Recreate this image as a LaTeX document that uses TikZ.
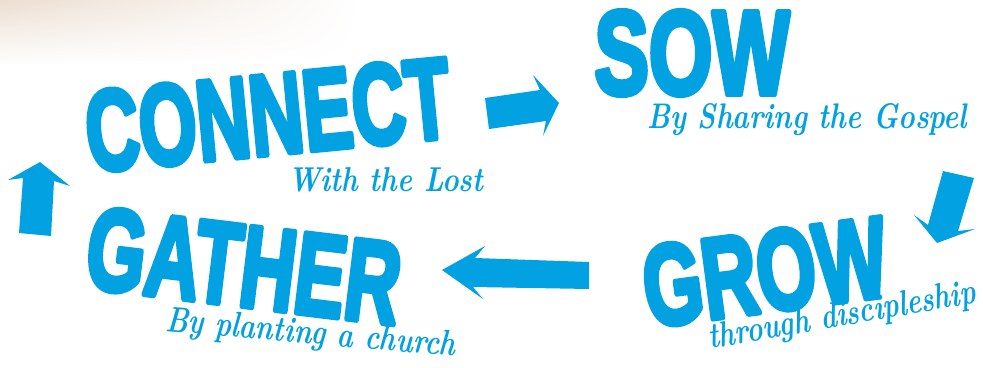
\documentclass[tikz,border=0pt]{standalone}
\usepackage{fontspec}
\usepackage{graphicx}
\usetikzlibrary{shadings}
\newfontfamily\bigfont[FakeBold=5]{Liberation Sans Bold}
\definecolor{cblue}{RGB}{2,161,226}
\definecolor{haze}{RGB}{236,222,210}
\begin{document}
\begin{tikzpicture}[x=1pt,y=-1pt,
  bigword/.style={inner sep=0pt, text=cblue, font=\bigfont, line join=round},
  subword/.style={inner sep=0pt, text=cblue, font=\bfseries\itshape, anchor=base west},
  blockarrow/.style={fill=cblue}]
\fill[white] (0,0) rectangle (983,367);
\shade[upper left=haze, upper right=white, lower left=white, lower right=white] (0,0) rectangle (360,65);
\useasboundingbox (0,0) rectangle (983,367);
% main words
\node[bigword, rotate=5.5]  (connect) at (268,115) {\pgfsetroundjoin\resizebox{366pt}{80pt}{CONNECT}};
\node[bigword]              (sow)     at (692,53)  {\pgfsetroundjoin\resizebox{195pt}{83pt}{SOW}};
\node[bigword, rotate=7.5]  (grow)    at (765,272) {\pgfsetroundjoin\resizebox{245pt}{80pt}{GROW}};
\node[bigword, rotate=-6.9] (gather)  at (244,266) {\pgfsetroundjoin\resizebox{315pt}{81pt}{GATHER}};
% subtitles
\node[subword]              (withlost) at (288,191) {\resizebox{195pt}{24pt}{With the Lost}};
\node[subword]              (sharing)  at (647,128) {\resizebox{320pt}{25pt}{By Sharing the Gospel}};
\node[subword, rotate=9.8]  (through)  at (710,349) {\resizebox{271pt}{25pt}{through discipleship}};
\node[subword, rotate=-5]   (planting) at (165,331) {\resizebox{291pt}{25pt}{By planting a church}};
% block arrows
\fill[blockarrow] (485,98) -- (540,90) -- (533,75) -- (559,103) -- (543,136) -- (546,121) -- (489,129) -- cycle;
\fill[blockarrow] (943,171) -- (974,178) -- (958,231) -- (975,229) -- (937,243) -- (914,215) -- (928,225) -- cycle;
\fill[blockarrow] (442,270) -- (485,246) -- (475,258) -- (589,262) -- (589,289) -- (473,287) -- (483,299) -- cycle;
\fill[blockarrow] (40,162) -- (70,186) -- (54,181) -- (51,236) -- (19,233) -- (23,178) -- (8,180) -- cycle;
\end{tikzpicture}
\end{document}
